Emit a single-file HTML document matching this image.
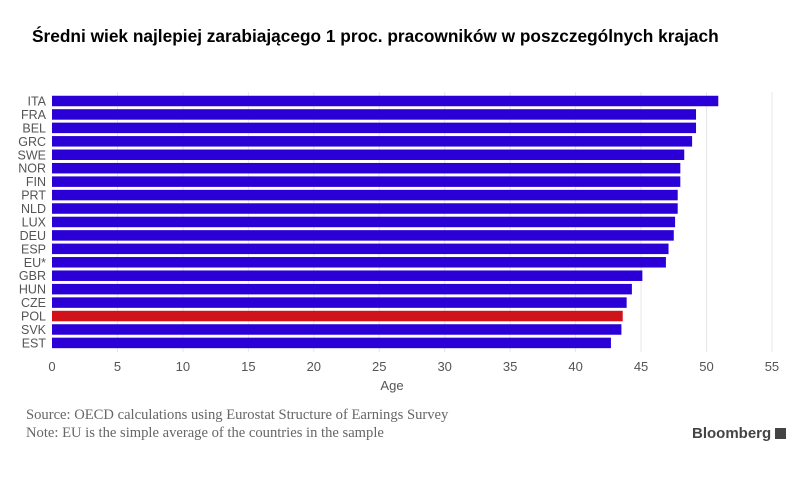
<!DOCTYPE html>
<html><head><meta charset="utf-8">
<style>
body{margin:0;width:805px;height:484px;background:#fff;overflow:hidden;font-family:"Liberation Sans",sans-serif;}
#title{position:absolute;left:32px;top:26px;font-size:17.3px;font-weight:bold;color:#000;}
.note{position:absolute;left:26px;font-family:"Liberation Serif",serif;font-size:14.6px;color:#666;}
#bb{position:absolute;left:692px;top:425px;font-size:15px;font-weight:bold;color:#444;}
</style></head><body>
<div id="title">Średni wiek najlepiej zarabiającego 1 proc. pracowników w poszczególnych krajach</div>
<svg id="chart" width="805" height="400" style="position:absolute;left:0;top:0"></svg>
<div class="note" style="top:407px">Source: OECD calculations using Eurostat Structure of Earnings Survey</div>
<div class="note" style="top:425px">Note: EU is the simple average of the countries in the sample</div>
<div id="bb">Bloomberg <span style="display:inline-block;width:11px;height:11px;background:#444;vertical-align:-1px"></span></div>
<script>
const categories=["ITA","FRA","BEL","GRC","SWE","NOR","FIN","PRT","NLD","LUX","DEU","ESP","EU*","GBR","HUN","CZE","POL","SVK","EST"];
const values=[50.9,49.2,49.2,48.9,48.3,48.0,48.0,47.8,47.8,47.6,47.5,47.1,46.9,45.1,44.3,43.9,43.6,43.5,42.7];
const highlight=["POL"];
const ticks=[0,5,10,15,20,25,30,35,40,45,50,55];
const NS="http://www.w3.org/2000/svg";
const svg=document.getElementById('chart');
const x0=52,scale=13.09,y0=101,step=13.44,bh=10.5;
const x=v=>x0+v*scale, y=i=>y0+i*step;
function mk(t,a){const e=document.createElementNS(NS,t);for(const k in a)e.setAttribute(k,a[k]);svg.appendChild(e);return e;}
ticks.forEach(t=>{
  if(t>0){const g=mk('line',{x1:x(t),x2:x(t),y1:92,y2:352,stroke:'#e6e6e6','stroke-width':1});
  
  }
  const l=mk('text',{x:x(t),y:371,'text-anchor':'middle','font-size':13,fill:'#555','font-family':'Liberation Sans'});
  l.textContent=t;
  
  
});
categories.forEach((c,i)=>{
  const r=mk('rect',{x:x0,y:y(i)-bh/2,width:x(values[i])-x0,height:bh,fill:highlight.includes(c)?'#d0121b':'#2b00d6'});
  
  
  const l=mk('text',{x:46,y:y(i)+4.5,'text-anchor':'end','font-size':12.5,fill:'#555','font-family':'Liberation Sans'});
  l.textContent=c;
  
  
});
const at=mk('text',{x:392,y:390,'text-anchor':'middle','font-size':13,fill:'#555','font-family':'Liberation Sans'});
at.textContent='Age';


</script>
</body></html>
